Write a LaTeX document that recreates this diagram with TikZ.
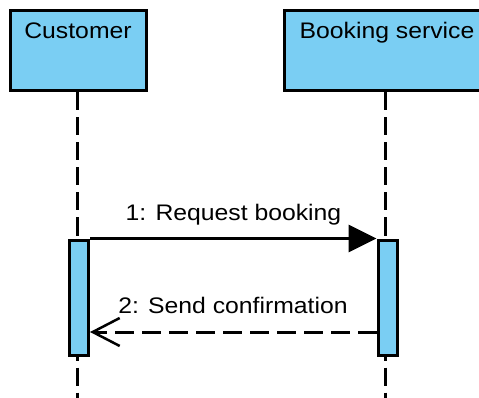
\documentclass[tikz,border=0pt]{standalone}
\usepackage{fontspec}
\setmainfont{Liberation Sans}[FakeStretch=1.1]
\usetikzlibrary{arrows.meta}
\definecolor{boxblue}{RGB}{122,206,243}
\tikzset{
  lifebox/.style={draw=black, fill=boxblue, line width=3pt, minimum width=136pt, minimum height=80pt, inner sep=0pt},
  actbox/.style={draw=black, fill=boxblue, line width=3pt, minimum width=19pt, minimum height=115pt, inner sep=0pt},
  lifeline/.style={line width=3pt, dash pattern=on 18pt off 7pt},
  txt/.style={font=\fontsize{22.5}{26}\selectfont, anchor=base, inner sep=0pt},
  callmsg/.style={line width=3pt, -{Triangle[length=28pt, width=27pt]}},
  replymsg/.style={line width=3pt, dash pattern=on 19pt off 8pt, -{Straight Barb[length=27pt, width=28pt, line width=2.5pt]}}
}
\begin{document}
\begin{tikzpicture}[x=1pt, y=-1pt]
\clip (0,0) rectangle (479,398);
\fill[white] (0,0) rectangle (479,398);
% header boxes
\node[lifebox] (cust) at (78,51) {};
\node[lifebox, minimum width=202pt] (book) at (385,51) {};
\node[txt] (custlabel) at (78,39) {Customer};
\node[txt] (booklabel) at (387,39) {Booking service};
% lifeline ends
\coordinate (custend) at (77,400);
\coordinate (bookend) at (385,400);
\draw[lifeline] (cust.south -| custend) -- (custend);
\draw[lifeline] (book.south -| bookend) -- (bookend);
% activation boxes
\node[actbox] (act1) at (79,297.5) {};
\node[actbox] (act2) at (387.5,297.5) {};
% messages
\draw[callmsg] (act1.north east) -- (act2.north west);
\node[txt] (m1) at (233.5,221) {1: Request booking};
\draw[replymsg] (act2.west |- 0,332) -- (act1.east |- 0,332);
\node[txt] (m2) at (233,313) {2: Send confirmation};
\end{tikzpicture}
\end{document}
